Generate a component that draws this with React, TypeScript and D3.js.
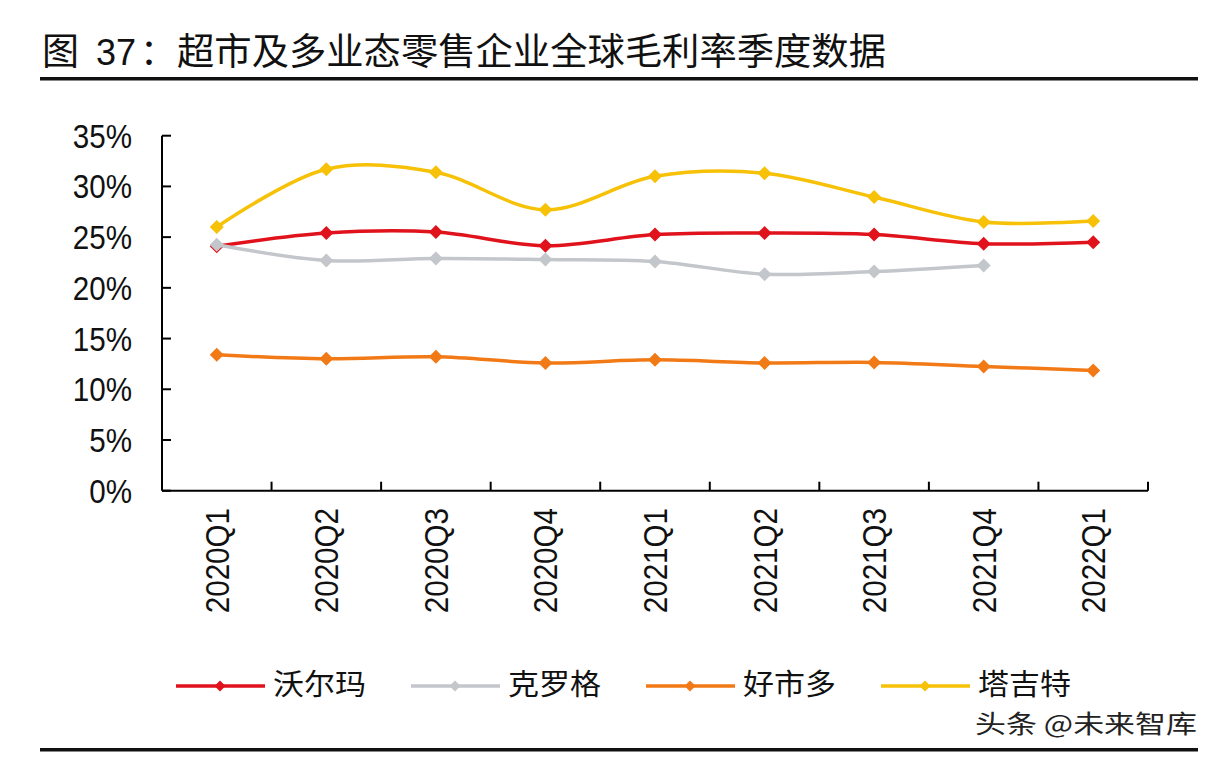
import React from 'react';
import * as d3 from 'd3';

const categories = ['2020Q1', '2020Q2', '2020Q3', '2020Q4', '2021Q1', '2021Q2', '2021Q3', '2021Q4', '2022Q1'];
const walmart: (number | null)[] = [24.1, 25.4, 25.5, 24.15, 25.25, 25.4, 25.25, 24.35, 24.5];
const kroger: (number | null)[] = [24.25, 22.7, 22.9, 22.8, 22.6, 21.35, 21.6, 22.2, null];
const costco: (number | null)[] = [13.4, 13.0, 13.2, 12.6, 12.9, 12.6, 12.65, 12.25, 11.85];
const target: (number | null)[] = [26.0, 31.7, 31.4, 27.7, 31.0, 31.3, 28.95, 26.5, 26.6];
const seriesNames = ['沃尔玛', '克罗格', '好市多', '塔吉特'];
const seriesColors = ['#E0121C', '#C3C6CA', '#F27A16', '#F6C106'];
const yTicks = [0, 5, 10, 15, 20, 25, 30, 35];
const titleNum = '37';
const titleText = '超市及多业态零售企业全球毛利率季度数据';
const watermark = '头条 @未来智库';

const W = 1218;
const H = 760;
const plot = { left: 162, right: 1148, top: 135.7, bottom: 490.7 };
const CJK = '"Noto Sans CJK SC", sans-serif';
const LAT = '"Liberation Sans", Arial, sans-serif';

export default function App() {
  const x = d3.scaleBand<string>().domain(categories).range([plot.left, plot.right]);
  const y = d3.scaleLinear().domain([0, 35]).range([plot.bottom, plot.top]);
  const allSeries = [walmart, kroger, costco, target];
  const line = d3
    .line<number | null>()
    .defined((d) => d !== null)
    .x((_, i) => (x(categories[i]) as number) + x.bandwidth() / 2)
    .y((d) => y(d as number))
    .curve(d3.curveCatmullRom.alpha(0.5));
  const diamond = (cx: number, cy: number, r: number) =>
    `M${cx},${cy - r}L${cx + r},${cy}L${cx},${cy + r}L${cx - r},${cy}Z`;

  const xBoundaries = categories.map((c) => (x(c) as number) + x.bandwidth());
  const legendX = [176, 411, 646, 881];

  return (
    <svg
      width={W}
      height={H}
      viewBox={`0 0 ${W} ${H}`}
      style={{ position: 'absolute', left: 0, top: 0, background: '#fff' }}
    >
      <rect x={0} y={0} width={W} height={H} fill="#fff" />
      {/* Title */}
      <text x={42} y={65} fontFamily={CJK} fontSize={37} fill="#111">图</text>
      <text x={96} y={65} fontFamily={LAT} fontSize={36} fill="#111">{titleNum}</text>
      <text x={140} y={65} fontFamily={CJK} fontSize={36} fill="#111">：</text>
      <text x={177} y={65} fontFamily={CJK} fontSize={37} fill="#111" textLength={709} lengthAdjust="spacingAndGlyphs">
        {titleText}
      </text>
      <rect x={40} y={77} width={1158} height={3.5} fill="#111" />

      {/* Axes */}
      <line x1={plot.left} y1={plot.top} x2={plot.left} y2={plot.bottom} stroke="#000" strokeWidth={2} />
      <line x1={plot.left} y1={plot.bottom} x2={plot.right} y2={plot.bottom} stroke="#000" strokeWidth={2} />
      {yTicks.map((t) => (
        <g key={t}>
          <line x1={plot.left} x2={plot.left + 9} y1={y(t)} y2={y(t)} stroke="#000" strokeWidth={2} />
          <g transform={`translate(132,${y(t) + 12}) scale(0.87,1)`}>
            <text x={0} y={0} textAnchor="end" fontFamily={LAT} fontSize={34} fill="#111">
              {`${t}%`}
            </text>
          </g>
        </g>
      ))}
      {xBoundaries.map((bx, i) => (
        <line key={i} x1={bx} x2={bx} y1={plot.bottom} y2={plot.bottom - 9} stroke="#000" strokeWidth={2} />
      ))}
      {categories.map((c) => {
        const cx = (x(c) as number) + x.bandwidth() / 2;
        return (
          <g key={c} transform={`translate(${cx + 12},508) rotate(-90) scale(0.87,1)`}>
            <text x={0} y={0} textAnchor="end" fontFamily={LAT} fontSize={34} fill="#111">
              {c}
            </text>
          </g>
        );
      })}

      {/* Series */}
      {allSeries.map((s, si) => (
        <g key={si}>
          <path d={line(s) || ''} fill="none" stroke={seriesColors[si]} strokeWidth={3.5} strokeLinejoin="round" />
          {s.map((v, i) =>
            v === null ? null : (
              <path
                key={i}
                d={diamond((x(categories[i]) as number) + x.bandwidth() / 2, y(v), 7)}
                fill={seriesColors[si]}
              />
            )
          )}
        </g>
      ))}

      {/* Legend */}
      {seriesNames.map((n, i) => (
        <g key={n}>
          <line x1={legendX[i]} x2={legendX[i] + 89} y1={686} y2={686} stroke={seriesColors[i]} strokeWidth={3.5} />
          <path d={diamond(legendX[i] + 44, 686, 5.5)} fill={seriesColors[i]} />
          <text x={legendX[i] + 97} y={695} fontFamily={CJK} fontSize={29} fill="#111" textLength={93} lengthAdjust="spacingAndGlyphs">
            {n}
          </text>
        </g>
      ))}

      {/* Watermark */}
      <text x={975} y={733} fontFamily={CJK} fontSize={25} fill="#222" textLength={222} lengthAdjust="spacingAndGlyphs">
        {watermark}
      </text>

      <rect x={40} y={748} width={1158} height={3.5} fill="#111" />
    </svg>
  );
}
